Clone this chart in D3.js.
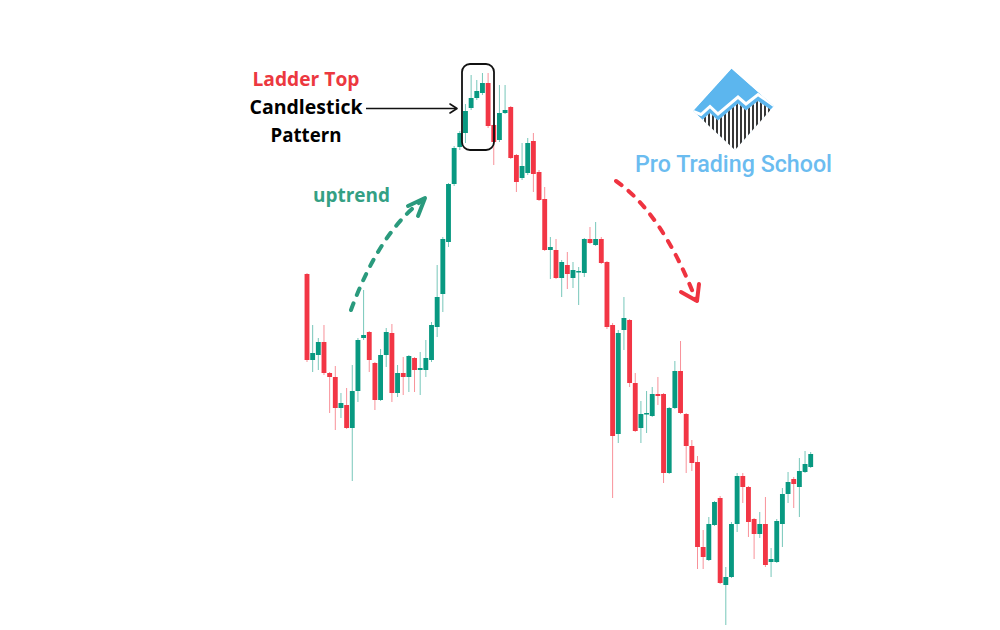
<!DOCTYPE html>
<html>
<head>
<meta charset="utf-8">
<script src="https://cdn.jsdelivr.net/npm/d3@7"></script>
<style>
  html, body { margin: 0; padding: 0; background: #ffffff; }
  svg { display: block; }
</style>
</head>
<body>
<svg id="chart" width="1000" height="630"></svg>
<script>
// ---- Data (price units) ----
const open  = [356,270,275,288,257,253,222,225,202,239,292,298,267,230,275,297,237,257,253,272,260,260,270,303,336,388,446,483,497,522,532,537,547,505,490,517,523,475,452,457,489,458,431,380,380,352,365,352,358,357,391,385,391,368,305,196,300,310,247,202,216,214,236,236,157,222,259,216,184,168,83,70,105,132,45,53,106,154,143,111,96,106,68,68,106,136,151,143,158,163];
const high  = [357,305,292,305,258,264,237,242,265,292,340,299,268,281,302,306,265,273,275,273,278,290,308,365,393,447,484,499,526,555,550,557,557,506,545,545,524,476,487,492,497,460,443,393,391,370,378,368,363,392,403,408,393,369,307,300,333,311,257,229,239,243,253,237,223,269,289,217,190,174,100,113,129,134,63,108,157,157,144,112,118,133,82,111,142,158,153,172,179,178];
const low   = [268,258,260,255,217,200,212,201,149,228,290,258,220,229,263,228,233,235,238,238,235,253,268,293,318,383,444,480,487,520,530,535,502,465,488,516,471,438,450,455,438,429,379,351,351,333,341,342,325,353,386,384,366,301,132,187,280,243,198,187,197,213,225,147,156,221,216,157,159,61,61,69,104,46,5,52,98,127,93,71,92,63,53,67,83,127,122,113,157,162];
const close = [270,277,288,257,253,222,227,202,239,290,295,270,230,275,298,237,257,253,274,260,262,272,305,333,391,446,482,497,519,532,539,547,504,488,517,520,472,448,464,487,456,430,380,383,352,368,356,360,359,391,387,391,367,303,194,297,312,247,199,216,217,236,234,157,222,259,217,184,167,83,73,106,128,47,53,106,154,143,108,96,106,65,71,109,136,148,146,159,166,176];

const candles = open.map((o, i) => ({ i, o, h: high[i], l: low[i], c: close[i] }));

const GREEN = "#089981", RED = "#f23645";

const svg = d3.select("#chart");

const x = d3.scalePoint().domain(candles.map(d => d.i)).range([307, 810.7]);
const y = d3.scaleLinear().domain([0, 630]).range([630, 0]);
const bw = x.step() * 0.86;

// wicks
svg.append("g").selectAll("line").data(candles).join("line")
  .attr("x1", d => x(d.i)).attr("x2", d => x(d.i))
  .attr("y1", d => y(d.h)).attr("y2", d => y(d.l))
  .attr("stroke", d => d.c >= d.o ? GREEN : RED)
  .attr("stroke-opacity", 0.55)
  .attr("stroke-width", 1);

// bodies
svg.append("g").selectAll("rect").data(candles).join("rect")
  .attr("x", d => x(d.i) - bw / 2)
  .attr("width", bw)
  .attr("y", d => y(Math.max(d.o, d.c)))
  .attr("height", d => Math.max(1.5, Math.abs(y(d.o) - y(d.c))))
  .attr("fill", d => d.c >= d.o ? GREEN : RED);

// ---- Annotations ----
const defs = svg.append("defs");

// Rounded box around ladder top
svg.append("rect")
  .attr("x", 462).attr("y", 64).attr("width", 32).attr("height", 86)
  .attr("rx", 8).attr("ry", 8)
  .attr("fill", "none").attr("stroke", "#111").attr("stroke-width", 1.8);

// Black arrow
svg.append("line").attr("x1", 366).attr("y1", 108.5).attr("x2", 456).attr("y2", 108.5)
  .attr("stroke", "#111").attr("stroke-width", 1.6);
svg.append("path").attr("d", "M450,104 L457,108.5 L450,113")
  .attr("fill", "none").attr("stroke", "#111").attr("stroke-width", 1.6)
  .attr("stroke-linejoin", "round").attr("stroke-linecap", "round");

const txt = (t, cx, by, len, color, size, weight, family) =>
  svg.append("text").text(t)
    .attr("x", cx).attr("y", by)
    .attr("text-anchor", "middle")
    .attr("font-family", family || "'Open Sans', sans-serif")
    .attr("font-size", size).attr("font-weight", weight)
    .attr("fill", color)
    .attr("textLength", len).attr("lengthAdjust", "spacingAndGlyphs");

txt("Ladder Top", 306, 86, 107, "#ec3840", 20, 700);
txt("Candlestick", 306, 114, 113, "#000000", 20, 700);
txt("Pattern", 306, 142, 71, "#000000", 20, 700);
txt("uptrend", 351.5, 201.5, 77, "#34a084", 19.5, 700);

// Uptrend dashed curved arrow
svg.append("path").attr("d", "M351,310 Q380,231 424,199")
  .attr("fill", "none").attr("stroke", "#2a9a7d").attr("stroke-width", 4)
  .attr("stroke-dasharray", "7,9").attr("stroke-linecap", "round");
svg.append("path").attr("d", "M408,206 L425,198 L418,216")
  .attr("fill", "none").attr("stroke", "#2a9a7d").attr("stroke-width", 4)
  .attr("stroke-linecap", "round").attr("stroke-linejoin", "round");

// Downtrend dashed curved arrow
svg.append("path").attr("d", "M616,181 Q662,213 696,300")
  .attr("fill", "none").attr("stroke", "#ef3340").attr("stroke-width", 4)
  .attr("stroke-dasharray", "7,9").attr("stroke-linecap", "round");
svg.append("path").attr("d", "M681,292 L697,301 L699,284")
  .attr("fill", "none").attr("stroke", "#ef3340").attr("stroke-width", 4)
  .attr("stroke-linecap", "round").attr("stroke-linejoin", "round");

// ---- Logo ----
const LOGO_BLUE = "#5cb6ee";
const diamond = [[731.5, 68.5], [774, 106], [735, 150], [693, 111]];
const zig = [[692, 111], [701, 114.5], [710, 106.5], [718, 114], [738, 97], [746, 104], [758, 94.5], [776, 107]];
const line = d3.line();

defs.append("clipPath").attr("id", "diamondClip")
  .append("path").attr("d", line(diamond) + "Z");
const stripeRegion = zig.map(p => [p[0], p[1] + 6.5]).concat([[778, 160], [688, 160]]);
defs.append("clipPath").attr("id", "stripeClip")
  .append("path").attr("d", line(stripeRegion) + "Z");

const logo = svg.append("g").attr("clip-path", "url(#diamondClip)");
logo.append("path").attr("d", line(diamond) + "Z").attr("fill", LOGO_BLUE);
const stripes = logo.append("g").attr("clip-path", "url(#stripeClip)");
stripes.append("rect").attr("x", 686).attr("y", 90).attr("width", 94).attr("height", 70).attr("fill", "#ffffff");
stripes.selectAll("line").data(d3.range(701, 773, 4)).join("line")
  .attr("x1", d => d).attr("x2", d => d).attr("y1", 90).attr("y2", 160)
  .attr("stroke", "#151515").attr("stroke-width", 1.7);
logo.append("path").attr("d", line(zig)).attr("fill", "none")
  .attr("stroke", "#ffffff").attr("stroke-width", 3).attr("stroke-linejoin", "miter");

txt("Pro Trading School", 733.5, 172, 197, "#6bbcf0", 23.5, 500, "Roboto, sans-serif");
</script>
</body>
</html>
